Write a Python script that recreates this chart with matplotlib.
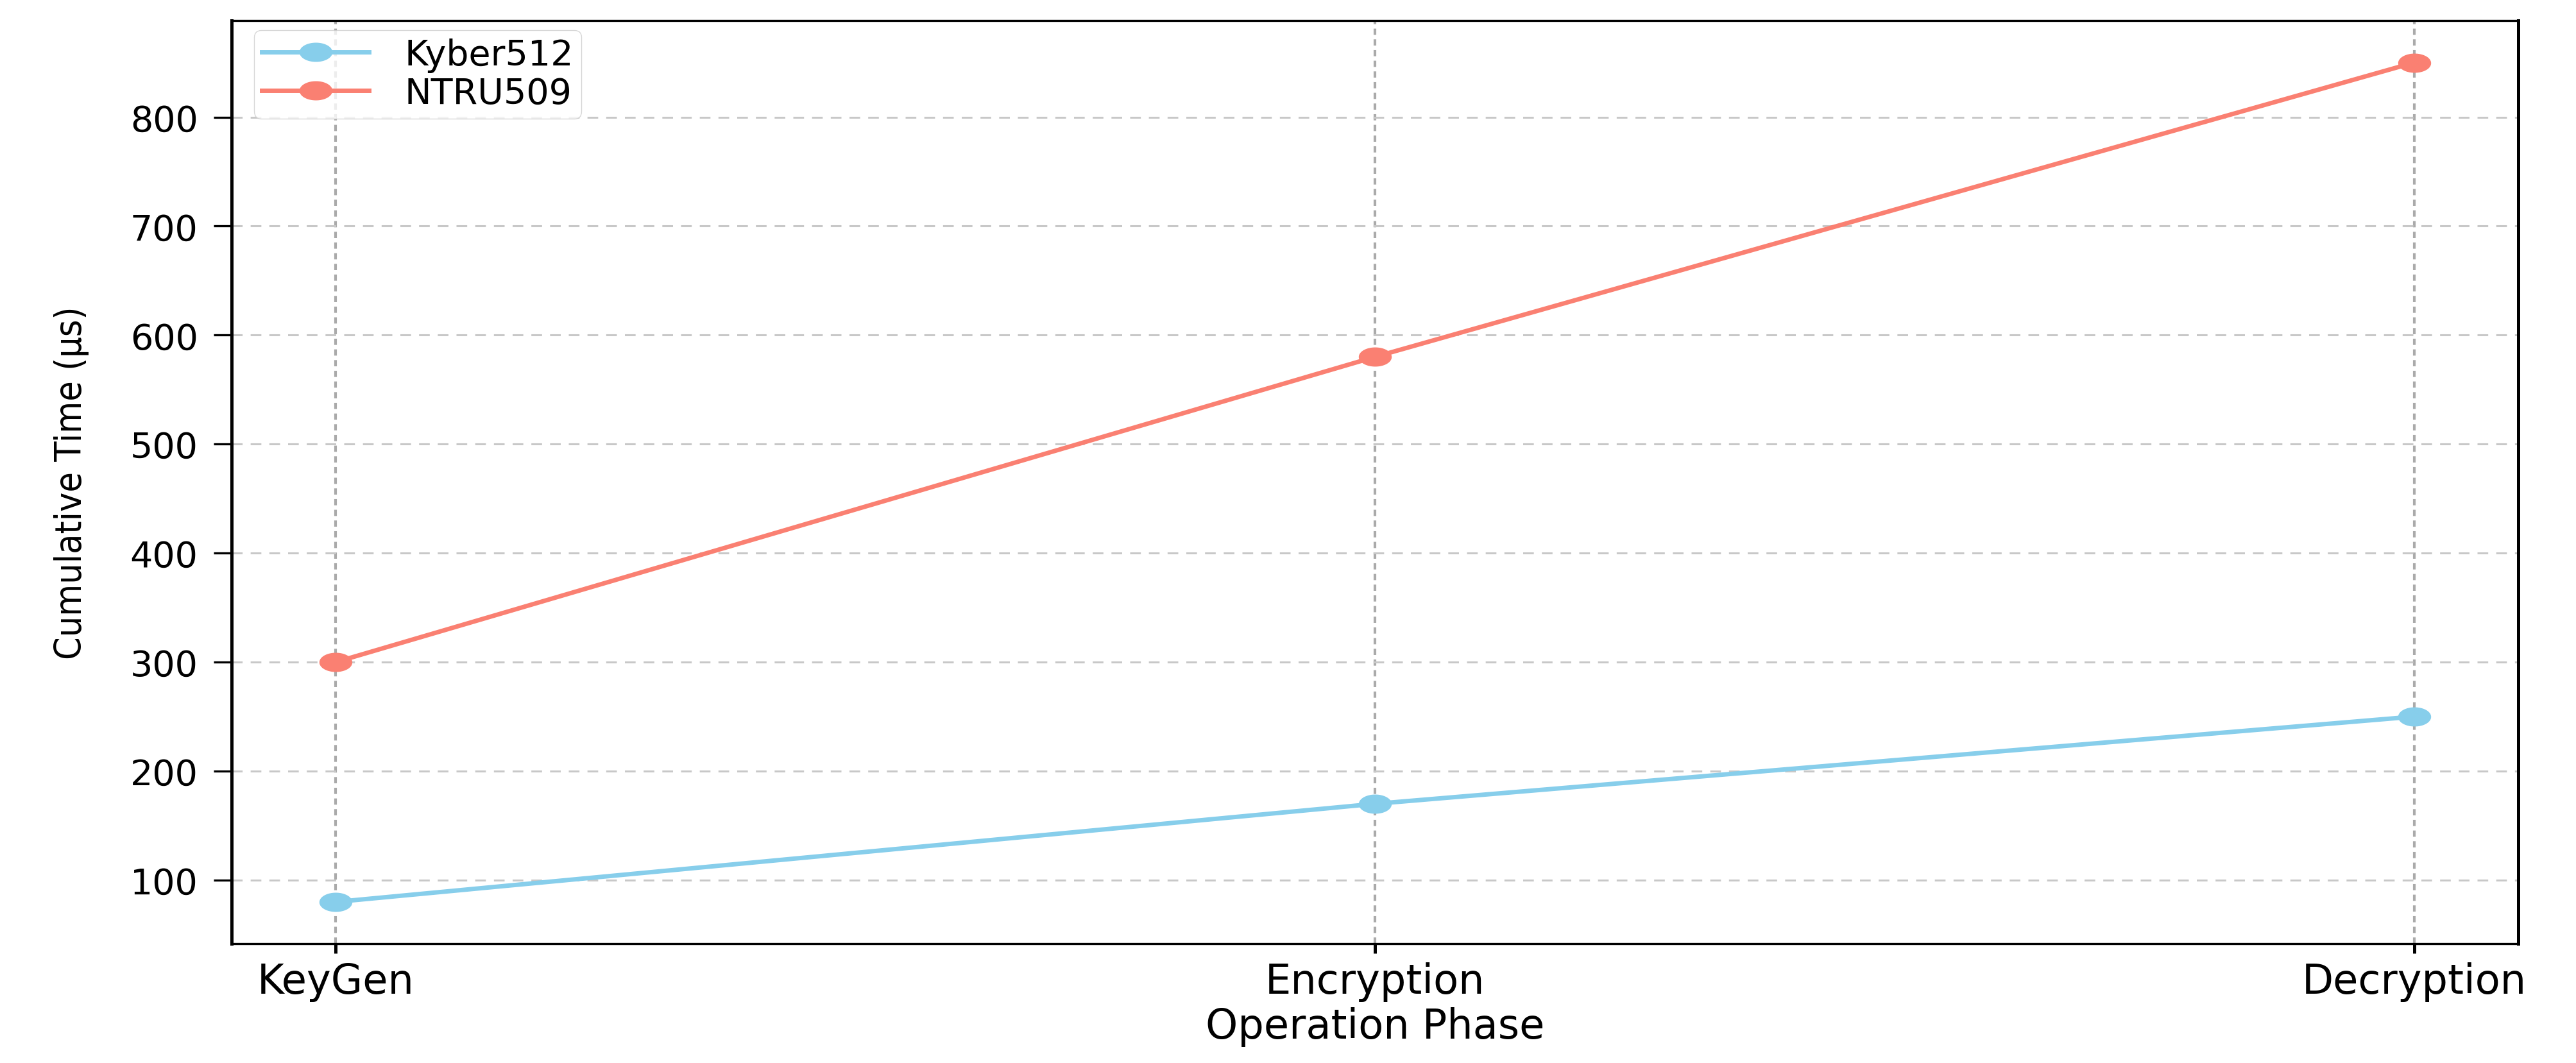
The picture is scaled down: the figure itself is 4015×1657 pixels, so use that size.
import matplotlib
matplotlib.use("Agg")
import matplotlib.pyplot as plt
from matplotlib.path import Path
from matplotlib.markers import MarkerStyle
import numpy as np

# ---------------------------------------------------------
# Data
# ---------------------------------------------------------
phases = ["KeyGen", "Encryption", "Decryption"]
kyber512 = [80, 170, 250]
ntru509 = [300, 580, 850]

KYBER_COLOR = "skyblue"
NTRU_COLOR = "salmon"

plt.rcParams["lines.scale_dashes"] = False

# the picture is stretched sideways, so markers come out as flat ellipses
theta = np.linspace(0, 2 * np.pi, 64)
ellipse = MarkerStyle(Path(np.column_stack([1.75 * np.cos(theta), np.sin(theta)])))

fig = plt.figure(figsize=(40.15, 16.58), dpi=100)
ax = fig.add_axes([0.090, 0.112, 0.8875, 0.868])

ax.plot(phases, kyber512, color=KYBER_COLOR, linewidth=5, marker=ellipse,
        markersize=36, label="Kyber512")
ax.plot(phases, ntru509, color=NTRU_COLOR, linewidth=5, marker=ellipse,
        markersize=36, label="NTRU509")

# grid: horizontal and vertical dashed lines
ax.yaxis.grid(True, color="#c8c8c8", linewidth=2.2, dashes=(12, 9))
ax.xaxis.grid(True, color="#aaaaaa", linewidth=3.0, dashes=(7, 5))
ax.set_axisbelow(True)

for side in ["top", "bottom"]:
    ax.spines[side].set_linewidth(2.4)
for side in ["left", "right"]:
    ax.spines[side].set_linewidth(3.6)

ax.tick_params(axis="y", labelsize=40, length=20, width=2.4, pad=18)
ax.tick_params(axis="x", labelsize=46, length=11, width=3.6, pad=9)

ax.set_xlabel("Operation Phase", fontsize=46, labelpad=6)
ax.set_ylabel("Cumulative Time (μs)", fontsize=41, labelpad=46,
              fontstretch="condensed")

ax.legend(loc="upper left", bbox_to_anchor=(0.0098, 0.990), borderaxespad=0,
          fontsize=40, handlelength=3.0, handletextpad=1.0,
          borderpad=0.22, labelspacing=0.1, framealpha=0.8)

fig.savefig("out.png", dpi=100)
plt.close()
